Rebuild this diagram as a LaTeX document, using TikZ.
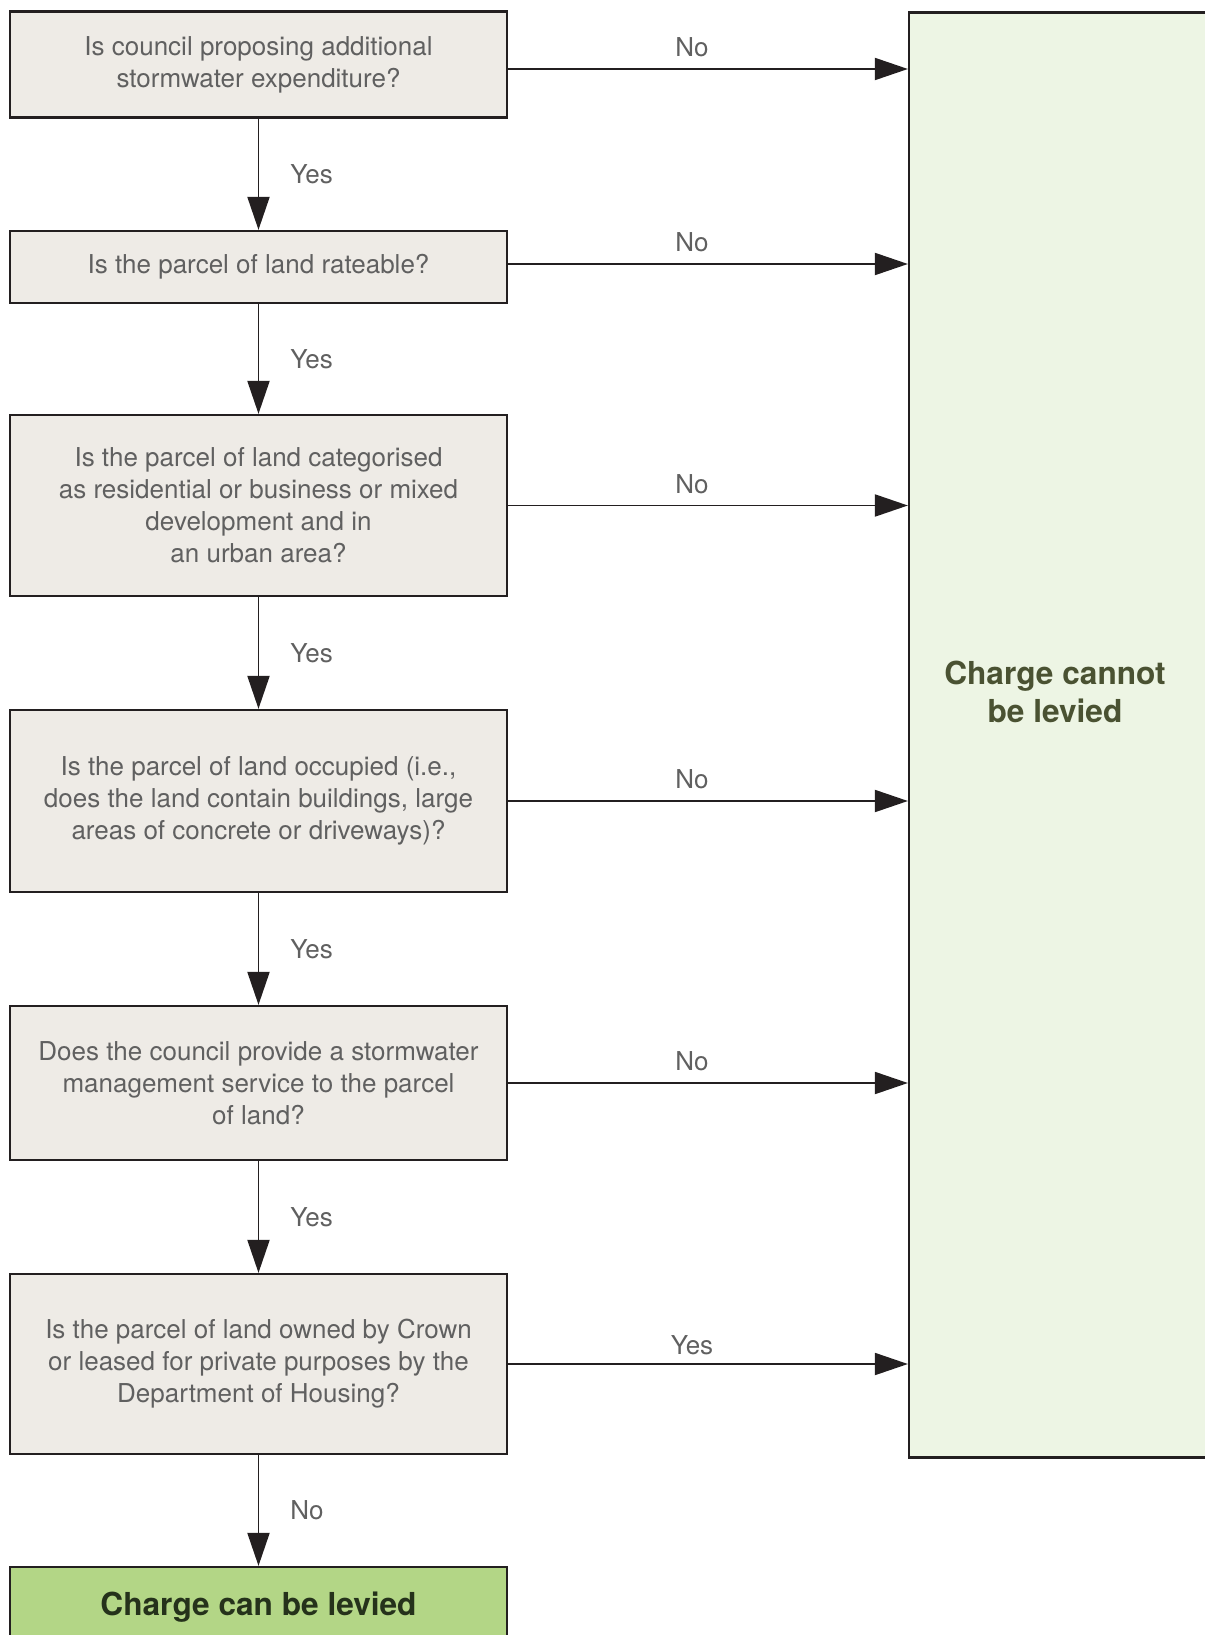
\documentclass[tikz,border=0pt]{standalone}
\usepackage{fontspec}
\setmainfont{TeX Gyre Heros}
\usetikzlibrary{arrows.meta}
\definecolor{boxfill}{HTML}{EEEBE6}
\definecolor{nofill}{HTML}{EDF5E4}
\definecolor{yesfill}{HTML}{B3D686}
\definecolor{edge}{HTML}{231F20}
\definecolor{qtext}{HTML}{606060}
\definecolor{notext}{HTML}{4A5232}
\definecolor{yestext}{HTML}{25321B}
\begin{document}
\begin{tikzpicture}[
    x=0.02cm, y=-0.02cm,
    question/.style={rectangle, draw=edge, line width=1.3pt, fill=boxfill, minimum width=9.94cm, align=center, text=qtext, font=\fontsize{14.8}{18.2}\selectfont},
    result/.style={rectangle, draw=edge, line width=1.3pt, inner sep=0pt},
    arrow/.style={-{Triangle[length=0.66cm, width=0.44cm]}, draw=edge, line width=1.1pt},
    answer/.style={text=qtext, font=\fontsize{14.8}{18.2}\selectfont}
]
\useasboundingbox (0,0) rectangle (1204,1635);

% Questions
\node[question, minimum height=2.12cm] (q1) at (258.5, 64.5) {Is council proposing additional\\stormwater expenditure?};
\node[question, minimum height=1.44cm] (q2) at (258.5, 267) {Is the parcel of land rateable?};
\node[question, minimum height=3.62cm] (q3) at (258.5, 505.5) {Is the parcel of land categorised\\as residential or business or mixed\\development and in\\an urban area?};
\node[question, minimum height=3.64cm] (q4) at (258.5, 801) {Is the parcel of land occupied (i.e.,\\does the land contain buildings, large\\areas of concrete or driveways)?};
\node[question, minimum height=3.08cm] (q5) at (258.5, 1083) {Does the council provide a stormwater\\management service to the parcel\\of land?};
\node[question, minimum height=3.6cm] (q6) at (258.5, 1364) {Is the parcel of land owned by Crown\\or leased for private purposes by the\\Department of Housing?};

% Results
\node[result, fill=nofill, minimum width=6.04cm, minimum height=28.9cm] (cannot) at (1060, 735) {};
\node[text=notext, font=\fontsize{18}{22}\selectfont\bfseries, align=center] (cannottext) at (1055, 692) {Charge cannot\\be levied};
\node[result, fill=yesfill, minimum width=9.94cm, minimum height=1.7cm, text=yestext, font=\fontsize{18}{22}\selectfont\bfseries] (can) at (258.5, 1609.5) {\raisebox{0.25cm}{Charge can be levied}};

% Arrows - Yes
\draw[arrow] (q1) -- node[answer, right, xshift=0.5cm] {Yes} (q2);
\draw[arrow] (q2) -- node[answer, right, xshift=0.5cm] {Yes} (q3);
\draw[arrow] (q3) -- node[answer, right, xshift=0.5cm] {Yes} (q4);
\draw[arrow] (q4) -- node[answer, right, xshift=0.5cm] {Yes} (q5);
\draw[arrow] (q5) -- node[answer, right, xshift=0.5cm] {Yes} (q6);
\draw[arrow] (q6) -- node[answer, right, xshift=0.5cm] {No} (can);

% Arrows - No
\draw[arrow] ([yshift=-0.09cm]q1.east) -- node[answer, above, pos=0.46, yshift=0.1cm] {No} ([yshift=-0.09cm]q1.east -| cannot.west);
\draw[arrow] ([yshift=0.06cm]q2.east) -- node[answer, above, pos=0.46, yshift=0.1cm] {No} ([yshift=0.06cm]q2.east -| cannot.west);
\foreach \q in {q3,q4,q5}
  \draw[arrow] (\q.east) -- node[answer, above, pos=0.46, yshift=0.1cm] {No} (\q.east -| cannot.west);
\draw[arrow] (q6.east) -- node[answer, above, pos=0.46, yshift=0.05cm] {Yes} (q6.east -| cannot.west);

\end{tikzpicture}
\end{document}
